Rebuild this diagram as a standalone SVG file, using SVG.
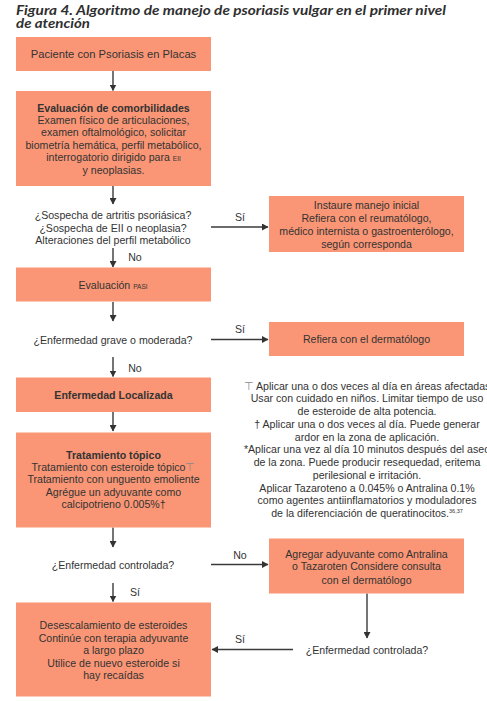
<svg xmlns="http://www.w3.org/2000/svg" width="487" height="701" viewBox="0 0 487 701">
<style>
.title{font-family:Lato,"Open Sans","Liberation Sans",sans-serif;font-weight:bold;font-style:italic;font-size:13.5px;fill:#2f2f2f}
.box{fill:#FA9675}
.t{font-family:"Liberation Sans",Arial,sans-serif;font-size:10.6px;fill:#333;text-anchor:middle}
.b{font-weight:bold}
.sm{font-size:6.5px}
.lbl{font-family:"Liberation Sans",Arial,sans-serif;font-size:10.6px;fill:#333;text-anchor:middle}
.c{stroke:#3a3a3a;stroke-width:1.4;fill:none;marker-end:url(#ah)}
.tack{fill:#888}
</style>
<defs>
<marker id="ah" markerUnits="userSpaceOnUse" markerWidth="7" markerHeight="7" refX="6" refY="3.5" orient="auto">
<path d="M0,0 L6.5,3.5 L0,7 z" fill="#333"/>
</marker>
</defs>
<rect width="487" height="701" fill="#fff"/>
<g id="title">
<text class="title" x="16" y="15" textLength="430" lengthAdjust="spacingAndGlyphs">Figura 4. Algoritmo de manejo de psoriasis vulgar en el primer nivel</text>
<text class="title" x="16" y="28" textLength="74" lengthAdjust="spacingAndGlyphs">de atención</text>
</g>
<g id="connectors">
<line class="c" x1="113" y1="71" x2="113" y2="90.5"/>
<line class="c" x1="113" y1="186" x2="113" y2="204"/>
<line class="c" x1="211" y1="227" x2="268" y2="227"/>
<line class="c" x1="113" y1="248" x2="113" y2="267"/>
<line class="c" x1="113" y1="302" x2="113" y2="321"/>
<line class="c" x1="211" y1="339.5" x2="268" y2="339.5"/>
<line class="c" x1="113" y1="357" x2="113" y2="376.5"/>
<line class="c" x1="113" y1="412" x2="113" y2="431"/>
<line class="c" x1="113" y1="527.5" x2="113" y2="547"/>
<line class="c" x1="211" y1="564.5" x2="268" y2="564.5"/>
<line class="c" x1="367" y1="593.5" x2="367" y2="638"/>
<line class="c" x1="293" y1="649.5" x2="212" y2="649.5"/>
<line class="c" x1="113" y1="583" x2="113" y2="601.5"/>
<text class="lbl" x="240" y="221">Sí</text>
<text class="lbl" x="135" y="261">No</text>
<text class="lbl" x="240" y="333">Sí</text>
<text class="lbl" x="135" y="371.5">No</text>
<text class="lbl" x="240" y="558.5">No</text>
<text class="lbl" x="135" y="596">Sí</text>
<text class="lbl" x="240" y="643">Sí</text>
</g>
<g id="n1">
<rect class="box" x="16" y="37" width="195" height="34"/>
<text class="t" x="113.5" y="58" style="font-size:11.2px">Paciente con Psoriasis en Placas</text>
</g>
<g id="n2">
<rect class="box" x="16" y="91" width="195" height="95"/>
<text class="t" x="113.5" y="111.5"><tspan class="b">Evaluación de comorbilidades</tspan><tspan x="113.5" dy="12.4">Examen físico de articulaciones,</tspan><tspan x="113.5" dy="12.4">examen oftalmológico, solicitar</tspan><tspan x="113.5" dy="12.4">biometría hemática, perfil metabólico,</tspan><tspan x="113.5" dy="12.4">interrogatorio dirigido para <tspan class="sm">EII</tspan></tspan><tspan x="113.5" dy="12.4">y neoplasias.</tspan></text>
</g>
<g id="d1">
<text class="t" x="113" y="219">¿Sospecha de artritis psoriásica?<tspan x="113" dy="12.6">¿Sospecha de EII o neoplasia?</tspan><tspan x="113" dy="12.8">Alteraciones del perfil metabólico</tspan></text>
</g>
<g id="n3">
<rect class="box" x="269" y="196" width="195" height="56"/>
<text class="t" x="366.5" y="209">Instaure manejo inicial<tspan x="366.5" dy="13.2">Refiera con el reumatólogo,</tspan><tspan x="366.5" dy="13.2">médico internista o gastroenterólogo,</tspan><tspan x="366.5" dy="12.8">según corresponda</tspan></text>
</g>
<g id="n4">
<rect class="box" x="16" y="267.5" width="195" height="34"/>
<text class="t" x="113" y="289">Evaluación <tspan class="sm">PASI</tspan></text>
</g>
<g id="d2">
<text class="t" x="113" y="344">¿Enfermedad grave o moderada?</text>
</g>
<g id="n5">
<rect class="box" x="269" y="322" width="195" height="34"/>
<text class="t" x="366.5" y="343">Refiera con el dermatólogo</text>
</g>
<g id="n6">
<rect class="box" x="16" y="377.5" width="195" height="34.5"/>
<text class="t b" x="113.5" y="399">Enfermedad Localizada</text>
</g>
<g id="n7">
<rect class="box" x="16" y="432.5" width="195" height="95"/>
<text class="t" x="113.5" y="458.5"><tspan class="b">Tratamiento tópico</tspan><tspan x="113.5" dy="12.4">Tratamiento con esteroide tópico<tspan class="tack">⊤</tspan></tspan><tspan x="113.5" dy="12.2">Tratamiento con unguento  emoliente</tspan><tspan x="113.5" dy="12.4">Agrégue un adyuvante como</tspan><tspan x="113.5" dy="12.4">calcipotrieno 0.005%†</tspan></text>
</g>
<g id="notes">
<text class="t" x="367" y="389.5"><tspan class="tack">⊤</tspan> Aplicar una o dos veces al día en áreas afectadas<tspan x="367" dy="12.75">Usar con cuidado en niños. Limitar tiempo de uso</tspan><tspan x="367" dy="12.75">de esteroide de alta potencia.</tspan><tspan x="367" dy="12.75">† Aplicar una o dos veces al día. Puede generar</tspan><tspan x="367" dy="12.75">ardor en la zona de aplicación.</tspan><tspan x="367" dy="12.75">*Aplicar una vez al día 10 minutos después del aseo</tspan><tspan x="367" dy="12.75">de la zona. Puede producir resequedad, eritema</tspan><tspan x="367" dy="12.75">perilesional e irritación.</tspan><tspan x="367" dy="12.75">Aplicar Tazaroteno a 0.045% o Antralina 0.1%</tspan><tspan x="367" dy="12.75">como agentes antiinflamatorios y moduladores</tspan><tspan x="367" dy="12.75">de la diferenciación de queratinocitos.<tspan style="font-size:5.5px" dy="-4">36,37</tspan></tspan></text>
</g>
<g id="d3">
<text class="t" x="113" y="569">¿Enfermedad controlada?</text>
</g>
<g id="n8">
<rect class="box" x="269" y="538.5" width="195" height="55"/>
<text class="t" x="366.5" y="557.5">Agregar adyuvante como Antralina<tspan x="366.5" dy="12.8">o Tazaroten Considere consulta</tspan><tspan x="366.5" dy="13.2">con el dermatólogo</tspan></text>
</g>
<g id="d4">
<text class="t" x="367" y="654">¿Enfermedad controlada?</text>
</g>
<g id="n9">
<rect class="box" x="16" y="602.5" width="195" height="94"/>
<text class="t" x="113.5" y="628.5">Desescalamiento de esteroides<tspan x="113.5" dy="13">Continúe con terapia adyuvante</tspan><tspan x="113.5" dy="12.6">a largo plazo</tspan><tspan x="113.5" dy="13">Utilice de nuevo esteroide si</tspan><tspan x="113.5" dy="12">hay recaídas</tspan></text>
</g>
</svg>
